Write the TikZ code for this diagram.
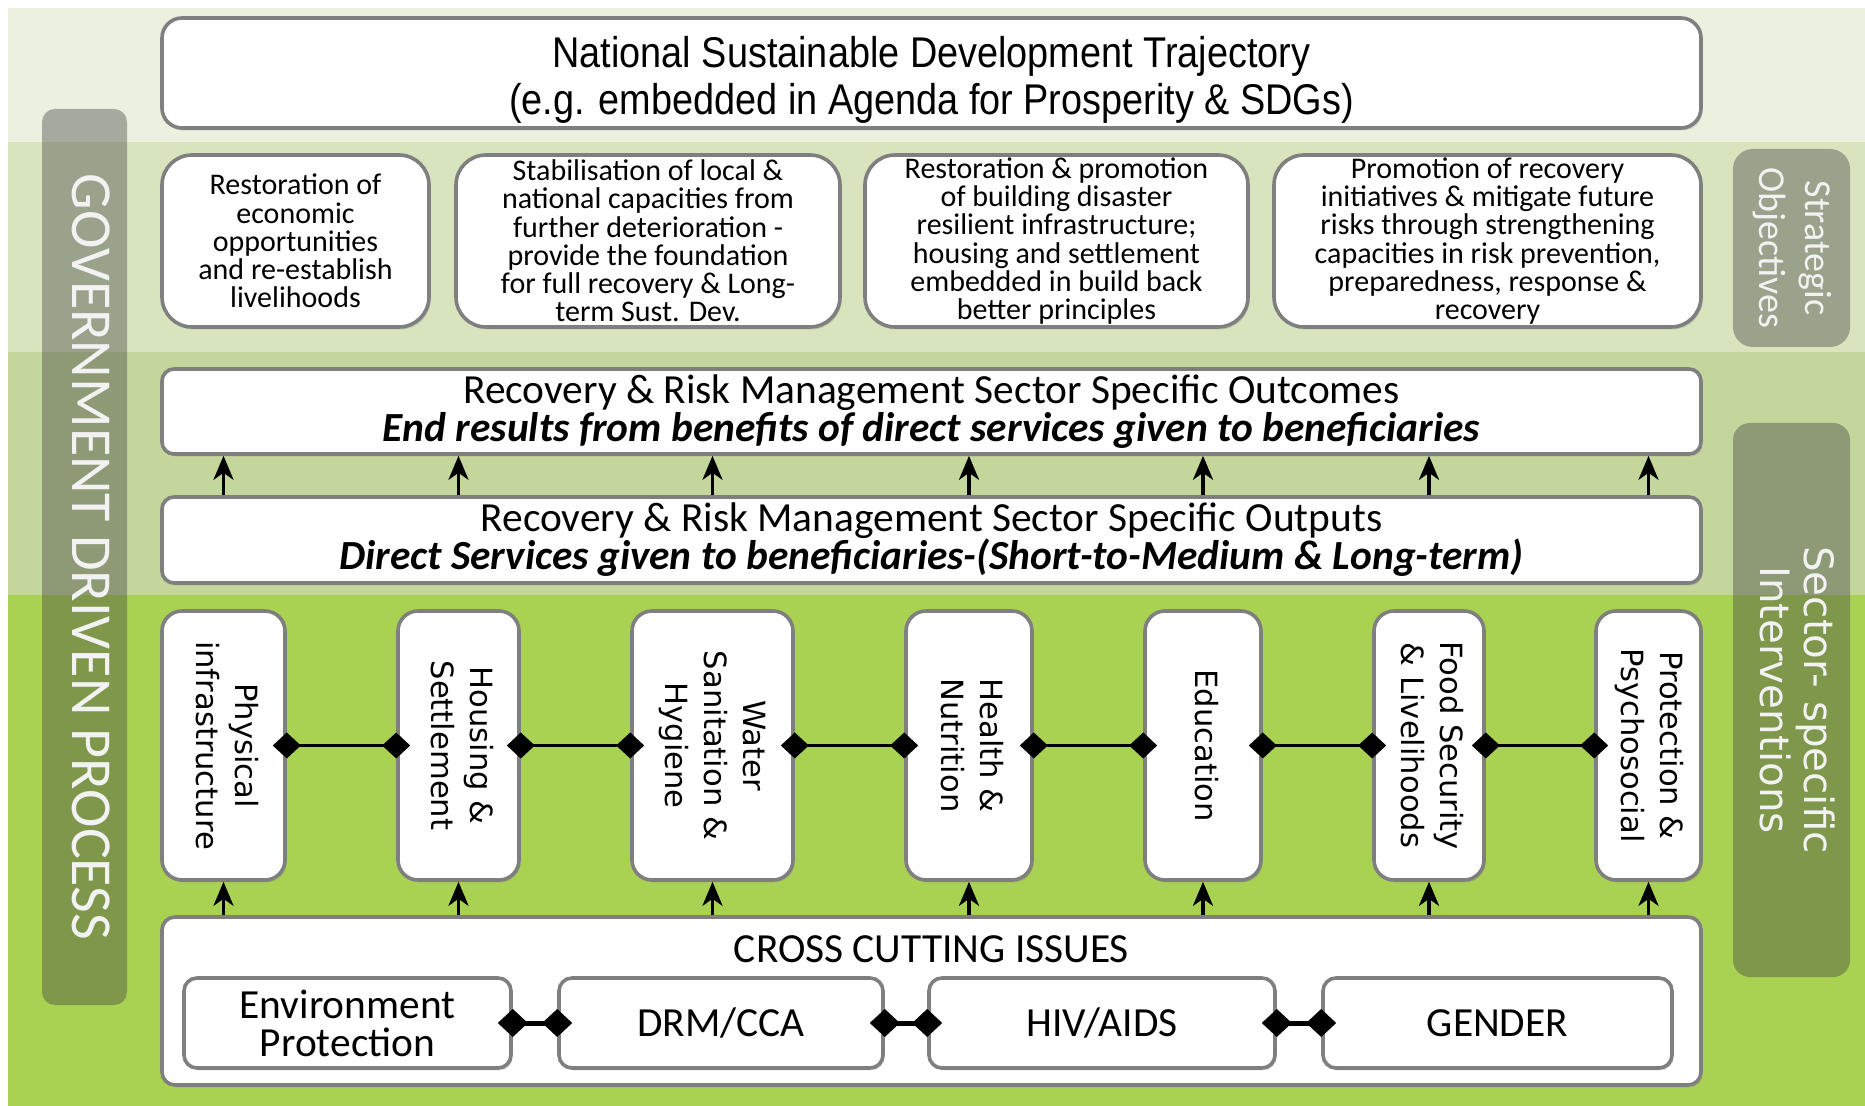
\documentclass[tikz,border=0pt]{standalone}
\usepackage{fontspec}
\usepackage{graphicx}
\setmainfont{Carlito}
\newfontfamily\narrowsans[FakeStretch=0.88]{Liberation Sans}
\newfontfamily\widesans{DejaVu Sans}
\usetikzlibrary{arrows.meta,positioning,shadows}

\definecolor{bandtop}{HTML}{EBF1DE}
\definecolor{bandobj}{HTML}{D7E4BD}
\definecolor{bandres}{HTML}{C3D69B}
\definecolor{bandsec}{HTML}{A9D152}
\definecolor{rimgray}{HTML}{7F7F7F}
\definecolor{barink}{HTML}{F2F2F2}

\newcommand{\vtext}[1]{\rotatebox{-90}{\begin{tabular}{@{}c@{}}#1\end{tabular}}}

\begin{document}
\begin{tikzpicture}[
    x=0.5pt, y=-0.5pt,
    arrow/.style={line width=1.8pt, -{Stealth[length=12pt, width=10pt, inset=3.5pt]}},
    link/.style={line width=1.3pt, {Diamond[length=14pt, width=13pt]}-{Diamond[length=14pt, width=13pt]}, shorten <=-7pt, shorten >=-7pt},
    shortlink/.style={line width=2.5pt, {Diamond[length=15pt, width=14pt]}-{Diamond[length=15pt, width=14pt]}, shorten <=-7.5pt, shorten >=-7.5pt},
    plate/.style={draw=rimgray, line width=1.8pt, fill=white, align=center, inner sep=0pt,
      drop shadow={shadow xshift=0.8pt, shadow yshift=-1.2pt, opacity=0.3}},
    trajectory/.style={plate, rounded corners=10pt, minimum width=769.5pt, minimum height=55pt,
      font=\narrowsans\fontsize{21.5}{23.5}\selectfont},
    goal/.style={plate, rounded corners=15pt, minimum height=86pt, font=\fontsize{15}{14.1}\selectfont},
    result/.style={plate, rounded corners=6pt, minimum width=769.5pt, font=\fontsize{20.7}{19}\selectfont},
    sector/.style={plate, rounded corners=10pt, minimum height=134.5pt, font=\widesans\fontsize{15.3}{19.5}\selectfont},
    issue/.style={plate, rounded corners=6.5pt, minimum height=45pt, font=\fontsize{20.7}{19}\selectfont},
    bar/.style={fill=black!75, fill opacity=0.4, text opacity=1, text=barink, inner sep=0pt},
  ]
  \useasboundingbox (0,0) rectangle (1865,1106);
  \fill[white] (0,0) rectangle (1865,1106);
  \fill[bandtop] (8,8) rectangle (1865,142);
  \fill[bandobj] (8,142) rectangle (1865,352);
  \fill[bandres] (8,352) rectangle (1865,595);
  \fill[bandsec] (8,595) rectangle (1865,1106);

  \node[bar, rounded corners=6.5pt, minimum width=42.5pt, minimum height=448pt,
    font=\fontsize{29}{29}\selectfont] (govern) at (84.5,557) {\vtext{GOVERNMENT DRIVEN PROCESS}};
  \node[bar, rounded corners=10pt, minimum width=58.5pt, minimum height=99pt,
    font=\fontsize{19}{23}\selectfont] (strategy) at (1791.5,248) {\vtext{Strategic\\Objectives}};
  \node[bar, rounded corners=8.5pt, minimum width=58.5pt, minimum height=277pt,
    font=\widesans\fontsize{20.2}{22}\selectfont] (intervention) at (1791.5,700) {\vtext{Sector- specific\\Interventions}};

  \node[trajectory] (trajectory) at (931.5,73) {\rule{0pt}{22.5pt}National Sustainable Development Trajectory\\(e.g. embedded in Agenda for Prosperity \& SDGs)};

  \node[goal, minimum width=133.5pt] (economy) at (295.5,241) {Restoration of\\economic\\opportunities\\and re-establish\\livelihoods};
  \node[goal, minimum width=192pt] (capacity) at (648,241) {Stabilisation of local \&\\national capacities from\\further deterioration -\\provide the foundation\\for full recovery \& Long-\\term Sust. Dev.};
  \node[goal, minimum width=191.5pt] (resilience) at (1056.5,241) {Restoration \& promotion\\of building disaster\\resilient infrastructure;\\housing and settlement\\embedded in build back\\better principles};
  \node[goal, minimum width=213.5pt] (mitigation) at (1487.5,241) {Promotion of recovery\\initiatives \& mitigate future\\risks through strengthening\\capacities in risk prevention,\\preparedness, response \&\\recovery};

  \node[result, minimum height=42.5pt] (outcomes) at (931.5,411.5) {Recovery \& Risk Management Sector Specific Outcomes\\{\bfseries\itshape End results from benefits of direct services given to beneficiaries}};
  \node[result, minimum height=43pt] (outputs) at (931.5,540) {Recovery \& Risk Management Sector Specific Outputs\\{\bfseries\itshape Direct Services given to beneficiaries-(Short-to-Medium \& Long-term)}};

  \node[sector, minimum width=61.5pt] (infra) at (223.5,745.5) {\vtext{Physical\\infrastructure}};
  \node[sector, minimum width=60.5pt] (housing) at (458.5,745.5) {\vtext{Housing \&\\Settlement}};
  \node[sector, minimum width=80.5pt] (wash) at (712.5,745.5) {\vtext{Water\\Sanitation \&\\Hygiene}};
  \node[sector, minimum width=63pt] (health) at (969,745.5) {\vtext{Health \&\\Nutrition}};
  \node[sector, minimum width=58pt] (education) at (1203,745.5) {\vtext{Education}};
  \node[sector, minimum width=55pt] (food) at (1429,745.5) {\vtext{Food Security\\\& Livelihoods}};
  \node[sector, minimum width=52.5pt] (protection) at (1648.5,745.5) {\vtext{Protection \&\\Psychosocial}};

  \node[plate, rounded corners=6.5pt, minimum width=769.5pt, minimum height=84pt,
    label={[font=\fontsize{20.7}{20.7}\selectfont, anchor=north, inner sep=0pt, yshift=-10pt]north:CROSS CUTTING ISSUES}] (cross) at (931.5,1001) {};

  \node[issue, minimum width=163.5pt] (environment) at (347.5,1023) {Environment\\Protection};
  \node[issue, minimum width=162pt] (drm) at (721,1023) {DRM/CCA};
  \node[issue, minimum width=173pt] (hiv) at (1102,1023) {HIV/AIDS};
  \node[issue, minimum width=174.5pt] (gender) at (1497.5,1023) {GENDER};

  \draw[link] (infra) -- (housing);
  \draw[link] (housing) -- (wash);
  \draw[link] (wash) -- (health);
  \draw[link] (health) -- (education);
  \draw[link] (education) -- (food);
  \draw[link] (food) -- (protection);

  \draw[shortlink] (environment) -- (drm);
  \draw[shortlink] (drm) -- (hiv);
  \draw[shortlink] (hiv) -- (gender);

  \draw[arrow] (outputs.north -| infra) -- (outcomes.south -| infra);
  \draw[arrow] (outputs.north -| housing) -- (outcomes.south -| housing);
  \draw[arrow] (outputs.north -| wash) -- (outcomes.south -| wash);
  \draw[arrow] (outputs.north -| health) -- (outcomes.south -| health);
  \draw[arrow] (outputs.north -| education) -- (outcomes.south -| education);
  \draw[arrow] (outputs.north -| food) -- (outcomes.south -| food);
  \draw[arrow] (outputs.north -| protection) -- (outcomes.south -| protection);

  \draw[arrow] (cross.north -| infra) -- (infra.south);
  \draw[arrow] (cross.north -| housing) -- (housing.south);
  \draw[arrow] (cross.north -| wash) -- (wash.south);
  \draw[arrow] (cross.north -| health) -- (health.south);
  \draw[arrow] (cross.north -| education) -- (education.south);
  \draw[arrow] (cross.north -| food) -- (food.south);
  \draw[arrow] (cross.north -| protection) -- (protection.south);
\end{tikzpicture}
\end{document}
